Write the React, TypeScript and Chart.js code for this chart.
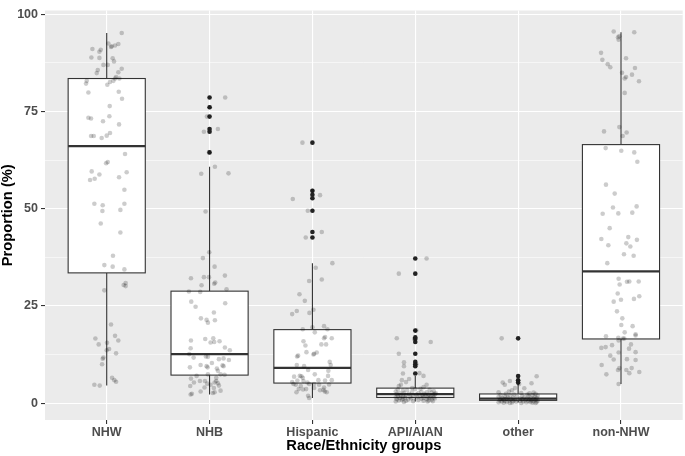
import { useEffect, useRef } from 'react';
import { Chart, registerables } from 'chart.js';

Chart.register(...registerables);

const categories = ['NHW', 'NHB', 'Hispanic', 'API/AIAN', 'other', 'non-NHW'];
const yTicks = [0, 12.5, 25, 37.5, 50, 62.5, 75, 87.5, 100];

// box statistics (%)
const whiskerLow = [4.5, 2.2, 1.3, 0.4, 0.15, 4.9];
const q1 = [33.5, 7.2, 5.15, 1.45, 0.7, 16.5];
const median = [66.1, 12.6, 9.05, 2.3, 1.15, 33.9];
const q3 = [83.5, 28.8, 18.9, 3.85, 2.35, 66.5];
const whiskerHigh = [95.2, 60.8, 36.0, 7.0, 4.9, 95.4];

// boxplot outliers (%)
const outNHW: number[] = [];
const outNHB = [78.6, 76.1, 73.7, 70.5, 69.8, 64.5];
const outHispanic = [67.0, 54.6, 53.6, 52.7, 49.5, 44.0, 42.6];
const outAPI = [37.2, 33.3, 18.65, 16.9, 16.5, 15.7, 12.7, 10.6, 10.0, 9.5, 7.6];
const outOther = [16.65, 6.95, 5.86, 5.27];
const outNonNHW: number[] = [];

// jittered observations: [value %, horizontal jitter]
const ptsNHW: [number, number][] = [
  [95.2, 0.146], [92.5, 0.016], [91.8, 0.049], [91.6, 0.042], [92.0, 0.081], [92.4, 0.113], [91.1, -0.139], [90.9, -0.058],
  [90.4, -0.071], [88.9, -0.149], [88.8, -0.071], [88.7, 0.058], [87.9, 0.071], [87.0, -0.032], [87.0, 0.01], [85.7, -0.087],
  [84.9, -0.097], [86.0, 0.146], [85.1, 0.113], [83.9, 0.091], [83.5, 0.081], [83.5, 0.123], [82.6, 0.032], [82.9, 0.065],
  [82.9, -0.194], [82.2, -0.201], [81.9, 0.006], [79.9, -0.178], [80.1, 0.117], [78.3, 0.149], [76.4, 0.029], [73.4, -0.178],
  [73.2, -0.152], [72.5, -0.036], [73.8, 0.026], [71.7, 0.12], [68.7, -0.152], [68.7, -0.126], [68.2, -0.049], [68.8, 0],
  [69.5, 0.032], [64.1, 0.178], [61.7, -0.006], [62.0, 0.01], [59.6, -0.146], [58.8, -0.071], [59.4, 0.194], [57.4, -0.162],
  [57.7, -0.117], [58.1, 0.12], [54.9, 0.172], [51.3, -0.12], [50.9, -0.039], [49.4, -0.042], [51.3, 0.172], [49.7, 0.133],
  [46.2, -0.058], [43.9, 0.133], [37.9, 0.061], [35.5, -0.023], [35.1, 0.058], [34.4, 0.172], [30.9, 0.184], [30.4, 0.165],
  [30.1, 0.184], [29.0, -0.023], [20.2, 0.042], [17.3, 0.081], [16.6, -0.11], [16.1, 0.113], [15.1, -0.078], [15.5, 0.003],
  [13.9, 0.023], [13.6, 0], [12.8, 0.091], [11.7, -0.032], [11.4, -0.039], [10.0, -0.045], [6.5, 0.052], [5.9, 0.074],
  [5.5, 0.091], [4.7, -0.12], [4.5, -0.068],
];
const ptsNHB: [number, number][] = [
  [78.6, 0.152], [76.1, 0.003], [73.7, -0.026], [70.5, 0.081], [69.8, -0.055], [64.5, -0.006], [60.8, 0.052], [59.0, -0.081],
  [59.1, 0.184], [49.3, -0.039], [38.8, -0.003], [37.3, -0.065], [35.1, 0.049], [32.1, -0.181], [32.4, -0.055], [32.4, -0.006],
  [32.8, 0.149], [31.0, 0.055], [30.7, 0.045], [30.3, -0.078], [28.7, -0.201], [28.6, -0.091], [29.3, 0.165], [26.1, -0.178],
  [24.8, -0.136], [25.7, 0.152], [23.3, 0.042], [21.8, -0.084], [21.4, -0.029], [20.7, -0.016], [21.3, 0.052], [16.1, -0.181],
  [16.5, -0.042], [16.7, 0.036], [15.6, 0.01], [15.7, 0.045], [15.9, 0.097], [14.1, -0.184], [14.3, 0.149], [13.6, 0.197],
  [12.6, -0.197], [11.7, -0.155], [12.0, -0.036], [11.9, -0.016], [11.1, 0.188], [11.3, 0.091], [11.5, 0.136], [10.3, 0.023],
  [9.8, -0.087], [9.5, -0.029], [9.2, -0.019], [9.7, 0.126], [9.5, 0.136], [8.9, 0.071], [9.2, -0.191], [8.3, 0.081],
  [7.3, 0.146], [7.4, 0.107], [7.4, -0.016], [7.0, -0.126], [6.3, -0.181], [5.3, -0.152], [5.7, -0.094], [5.7, -0.045],
  [5.0, -0.023], [6.5, 0.065], [5.7, 0.065], [4.7, 0.01], [5.3, 0.049], [5.1, 0.081], [4.5, 0.091], [4.4, -0.188],
  [3.9, 0.042], [4.0, -0.049], [3.2, 0.107], [3.0, -0.087], [2.4, -0.172], [2.2, -0.184], [2.6, 0.032], [2.8, 0.049],
];
const ptsHispanic: [number, number][] = [
  [67.0, -0.097], [54.6, 0], [53.5, 0.074], [52.5, -0.191], [49.5, -0.045], [44.0, 0.091], [42.6, -0.065], [36.0, 0.194],
  [34.8, 0.032], [31.4, -0.032], [31.8, 0.091], [28.0, -0.126], [26.3, -0.074], [24.0, 0.01], [23.2, -0.029], [22.9, -0.197],
  [23.7, -0.152], [19.5, 0], [18.2, 0.023], [19.0, -0.094], [19.8, 0.113], [19.0, 0.146], [17.0, 0.123], [16.7, 0.113],
  [16.7, 0.188], [15.9, -0.087], [14.8, -0.068], [15.1, 0.087], [15.1, 0.133], [13.1, -0.058], [12.5, 0.01], [13.0, 0.042],
  [12.7, 0.016], [12.2, -0.139], [12.0, -0.149], [10.6, 0.168], [9.8, 0.178], [9.8, -0.152], [9.5, -0.081], [8.5, -0.042],
  [8.3, 0.155], [6.8, -0.178], [7.0, -0.123], [6.9, -0.107], [6.5, -0.094], [7.4, 0.023], [7.0, 0.152], [5.8, -0.146],
  [5.7, -0.087], [5.3, -0.049], [5.9, 0.058], [5.8, 0.123], [5.9, 0.188], [5.4, -0.197], [4.9, -0.184], [4.7, -0.162],
  [4.4, -0.113], [4.9, -0.032], [4.9, 0.016], [4.7, 0.065], [4.0, 0.113], [4.8, 0.162], [3.6, -0.133], [3.5, -0.091],
  [3.6, -0.061], [3.9, 0.016], [3.3, 0.074], [3.0, 0.12], [2.8, 0.139], [2.8, -0.155], [1.9, -0.042], [1.3, -0.032],
  [3.4, 0.107],
];
const ptsAPI: [number, number][] = [
  [37.2, 0.11], [33.3, -0.16], [18.7, 0.01], [16.7, -0.18], [16.5, -0.01], [15.7, 0.15], [12.7, -0.16], [10.5, -0.11],
  [10.0, 0.01], [9.5, -0.11], [7.6, -0.12], [7.7, 0.04], [7.0, 0.08], [6.2, -0.06], [5.9, -0.13], [5.4, -0.09],
  [4.7, -0.14], [4.7, 0.11], [4.4, -0.16], [4.1, 0.08], [3.9, -0.03], [3.7, 0.05], [3.5, -0.17], [3.4, 0.14],
  [3.3, -0.08], [3.1, 0.18], [3.2, -0.12], [2.9, 0.06], [3.0, -0.19], [2.8, 0.11], [2.9, -0.03], [2.7, 0.16],
  [2.6, -0.11], [2.6, 0.03], [2.5, -0.15], [2.4, 0.09], [2.4, -0.06], [2.3, 0.19], [2.3, -0.18], [2.2, 0.01],
  [2.2, 0.13], [2.1, -0.09], [2.1, 0.07], [2.0, -0.14], [2.0, 0.17], [1.9, -0.02], [1.9, 0.1], [1.8, -0.17],
  [1.8, 0.05], [1.7, -0.12], [1.7, 0.15], [1.6, -0.05], [1.6, 0.12], [1.5, -0.19], [1.5, 0.02], [1.5, 0.18],
  [1.4, -0.1], [1.4, 0.08], [1.3, -0.15], [1.3, 0.14], [1.2, -0.04], [1.2, 0.19], [1.1, -0.12], [1.1, 0.06],
  [1.0, -0.18], [1.0, 0.11], [0.9, -0.07], [0.9, 0.16], [0.8, -0.13], [0.8, 0.03], [0.7, 0.13], [0.7, -0.16],
  [0.6, 0.08], [0.6, -0.09], [0.5, 0.17], [0.5, -0.02], [0.4, -0.19], [0.4, 0.12], [0.3, -0.11], [2.5, 0.2], [3.6, 0.0],
];
const ptsOther: [number, number][] = [
  [16.65, -0.16], [6.9, 0.18], [5.9, 0.0], [5.7, -0.08], [5.3, -0.15], [5.1, 0.13], [4.7, -0.13], [4.9, 0.01],
  [3.9, -0.03], [3.8, 0.06], [3.3, -0.06], [3.0, -0.09], [2.8, -0.19], [2.7, 0.15], [2.6, 0.03], [2.5, 0.11],
  [2.4, -0.12], [2.4, 0.17], [2.2, -0.04], [2.2, 0.09], [2.1, -0.17], [2.0, 0.14], [2.0, -0.08], [1.9, 0.04],
  [1.9, 0.19], [1.8, -0.13], [1.8, 0.1], [1.7, -0.01], [1.6, 0.16], [1.6, -0.19], [1.5, 0.06], [1.5, -0.1],
  [1.4, 0.12], [1.4, -0.05], [1.3, 0.18], [1.3, -0.15], [1.2, 0.02], [1.2, -0.11], [1.1, 0.08], [1.1, 0.15],
  [1.0, -0.17], [1.0, 0.04], [0.95, -0.07], [0.9, 0.11], [0.9, -0.14], [0.8, 0.17], [0.8, -0.03], [0.75, 0.07],
  [0.7, -0.18], [0.7, 0.13], [0.65, -0.09], [0.6, 0.02], [0.6, 0.19], [0.55, -0.13], [0.5, 0.1], [0.5, -0.05],
  [0.45, 0.15], [0.4, -0.16], [0.4, 0.05], [0.35, -0.02], [0.3, 0.12], [0.3, -0.11], [0.25, 0.18], [0.2, -0.19],
  [0.2, 0.08], [0.15, -0.06], [0.1, 0.14], [0.1, -0.14], [0.05, 0.03], [0.05, -0.08], [0.05, 0.17],
];
const ptsNonNHW: [number, number][] = [
  [95.6, -0.071], [95.4, 0.129], [94.1, -0.029], [94.4, -0.016], [93.5, -0.023], [90.1, -0.194], [88.3, -0.181], [88.7, 0.049],
  [87.2, -0.129], [86.4, -0.104], [86.2, 0.136], [85.0, 0.01], [83.9, 0.049], [83.5, 0.036], [84.5, 0.107], [82.8, 0.175],
  [79.8, 0.036], [69.9, -0.165], [71.0, -0.016], [69.6, 0.055], [68.7, 0.016], [65.6, -0.149], [64.9, 0.003], [64.5, 0.129],
  [62.1, 0.159], [56.2, -0.146], [53.9, -0.061], [50.3, -0.078], [50.6, 0.152], [48.7, -0.178], [48.8, -0.026], [49.0, 0.11],
  [45.0, -0.11], [42.2, -0.191], [42.7, 0.071], [40.6, -0.123], [41.1, 0.052], [40.3, 0.091], [42.0, 0.155], [38.3, 0.029],
  [37.9, 0.123], [36.0, -0.133], [32.0, -0.023], [30.5, -0.013], [31.2, 0.058], [31.3, 0.081], [31.3, 0.172], [28.2, -0.032],
  [26.1, -0.071], [26.6, 0], [26.8, 0.126], [27.5, 0.178], [23.6, -0.039], [21.8, 0.013], [20.1, 0.003], [19.8, 0.113],
  [18.2, 0.036], [17.7, 0.142], [17.4, 0.142], [17.2, -0.146], [16.8, -0.026], [16.1, -0.023], [16.6, 0.019], [16.6, 0.032],
  [15.1, 0.097], [14.2, -0.191], [14.4, -0.149], [14.9, -0.087], [14.0, 0.078], [13.0, -0.023], [13.1, 0.142], [12.2, -0.104],
  [11.2, -0.071], [11.3, 0.058], [11.1, 0.142], [9.8, -0.188], [9.0, -0.016], [8.5, -0.029], [8.5, 0.052], [7.7, 0.081],
  [9.0, 0.104], [8.0, 0.178], [7.4, -0.142], [4.9, -0.023],
];

const groupPoints = [ptsNHW, ptsNHB, ptsHispanic, ptsAPI, ptsOther, ptsNonNHW];
const groupOutliers = [outNHW, outNHB, outHispanic, outAPI, outOther, outNonNHW];

const BOX_HALF = 0.375;
const FONT = "'Liberation Sans', Arial, Helvetica, sans-serif";

const panelPlugin = {
  id: 'ggPanel',
  beforeDraw(chart: any) {
    const { ctx, chartArea: a } = chart;
    ctx.save();
    ctx.fillStyle = '#EBEBEB';
    ctx.fillRect(a.left, a.top, a.right - a.left, a.bottom - a.top);
    ctx.restore();
  },
  beforeDatasetsDraw(chart: any) {
    const { ctx } = chart;
    const xs = chart.scales.x;
    const ys = chart.scales.y;
    ctx.save();
    ctx.strokeStyle = '#333333';
    categories.forEach((_, i) => {
      const c = i + 1;
      const xc = xs.getPixelForValue(c);
      const xl = xs.getPixelForValue(c - BOX_HALF);
      const xr = xs.getPixelForValue(c + BOX_HALF);
      const yLo = ys.getPixelForValue(whiskerLow[i]);
      const yQ1 = ys.getPixelForValue(q1[i]);
      const yMed = ys.getPixelForValue(median[i]);
      const yQ3 = ys.getPixelForValue(q3[i]);
      const yHi = ys.getPixelForValue(whiskerHigh[i]);
      ctx.lineWidth = 1.1;
      ctx.beginPath();
      ctx.moveTo(xc, yQ3);
      ctx.lineTo(xc, yHi);
      ctx.moveTo(xc, yQ1);
      ctx.lineTo(xc, yLo);
      ctx.stroke();
      ctx.fillStyle = '#FFFFFF';
      ctx.fillRect(xl, yQ3, xr - xl, yQ1 - yQ3);
      ctx.strokeRect(xl, yQ3, xr - xl, yQ1 - yQ3);
      ctx.lineWidth = 2.2;
      ctx.beginPath();
      ctx.moveTo(xl, yMed);
      ctx.lineTo(xr, yMed);
      ctx.stroke();
    });
    ctx.restore();
  },
};

export default function App() {
  const ref = useRef<HTMLCanvasElement>(null);

  useEffect(() => {
    const jitterData = groupPoints.flatMap((pts, i) => pts.map(([v, j]) => ({ x: i + 1 + j, y: v })));
    const outlierData = groupOutliers.flatMap((vals, i) => vals.map((v) => ({ x: i + 1, y: v })));

    const chart = new Chart(ref.current as HTMLCanvasElement, {
      type: 'scatter',
      data: {
        datasets: [
          {
            data: jitterData,
            pointRadius: 2.3,
            pointHoverRadius: 2.3,
            pointBorderWidth: 0,
            pointBackgroundColor: 'rgba(0,0,0,0.2)',
            borderWidth: 0,
          },
          {
            data: outlierData,
            pointRadius: 2.3,
            pointHoverRadius: 2.3,
            pointBorderWidth: 0,
            pointBackgroundColor: '#222222',
            borderWidth: 0,
          },
        ],
      },
      options: {
        animation: false,
        responsive: false,
        maintainAspectRatio: false,
        devicePixelRatio: 1,
        layout: { padding: 0 },
        events: [],
        plugins: { legend: { display: false }, tooltip: { enabled: false } },
        scales: {
          x: {
            type: 'linear',
            min: 0.4,
            max: 6.6,
            afterBuildTicks: (s: any) => {
              s.ticks = categories.map((_, i) => ({ value: i + 1 }));
            },
            afterFit: (s: any) => {
              s.height = 36;
            },
            border: { display: false },
            grid: {
              color: '#FFFFFF',
              lineWidth: 1.1,
              tickLength: 4,
              tickColor: '#333333',
              tickWidth: 1.1,
            },
            ticks: {
              autoSkip: false,
              maxRotation: 0,
              padding: 1,
              color: '#4D4D4D',
              font: { family: FONT, size: 12.5, weight: 'bold' },
              callback: (v: any) => categories[Math.round(Number(v)) - 1] ?? '',
            },
            title: {
              display: true,
              text: 'Race/Ethnicity groups',
              color: '#000000',
              font: { family: FONT, size: 14.7, weight: 'bold', lineHeight: 1.2 },
              padding: { top: 0, bottom: 1.5 },
            },
          },
          y: {
            type: 'linear',
            min: -4.35,
            max: 101,
            afterBuildTicks: (s: any) => {
              s.ticks = yTicks.map((v) => ({ value: v }));
            },
            afterFit: (s: any) => {
              s.width = 45;
            },
            border: { display: false },
            grid: {
              color: '#FFFFFF',
              lineWidth: (c: any) => (c.tick && c.tick.value % 25 === 0 ? 1.1 : 0.55),
              tickLength: 4,
              tickColor: (c: any) => (c.tick && c.tick.value % 25 === 0 ? '#333333' : 'rgba(0,0,0,0)'),
              tickWidth: 1.1,
            },
            ticks: {
              autoSkip: false,
              padding: 3,
              color: '#4D4D4D',
              font: { family: FONT, size: 12.5, weight: 'bold' },
              callback: (v: any) => (Number(v) % 25 === 0 ? String(v) : ''),
            },
            title: {
              display: true,
              text: 'Proportion (%)',
              color: '#000000',
              font: { family: FONT, size: 14.7, weight: 'bold', lineHeight: 1.1 },
              padding: { top: 0, bottom: 0 },
            },
          },
        },
      },
      plugins: [panelPlugin],
    } as any);

    return () => chart.destroy();
  }, []);

  return (
    <div style={{ position: 'absolute', left: 0, top: 0, width: 685, height: 456, background: '#FFFFFF' }}>
      <canvas ref={ref} width={685} height={456} style={{ display: 'block', width: 685, height: 456 }} />
    </div>
  );
}
